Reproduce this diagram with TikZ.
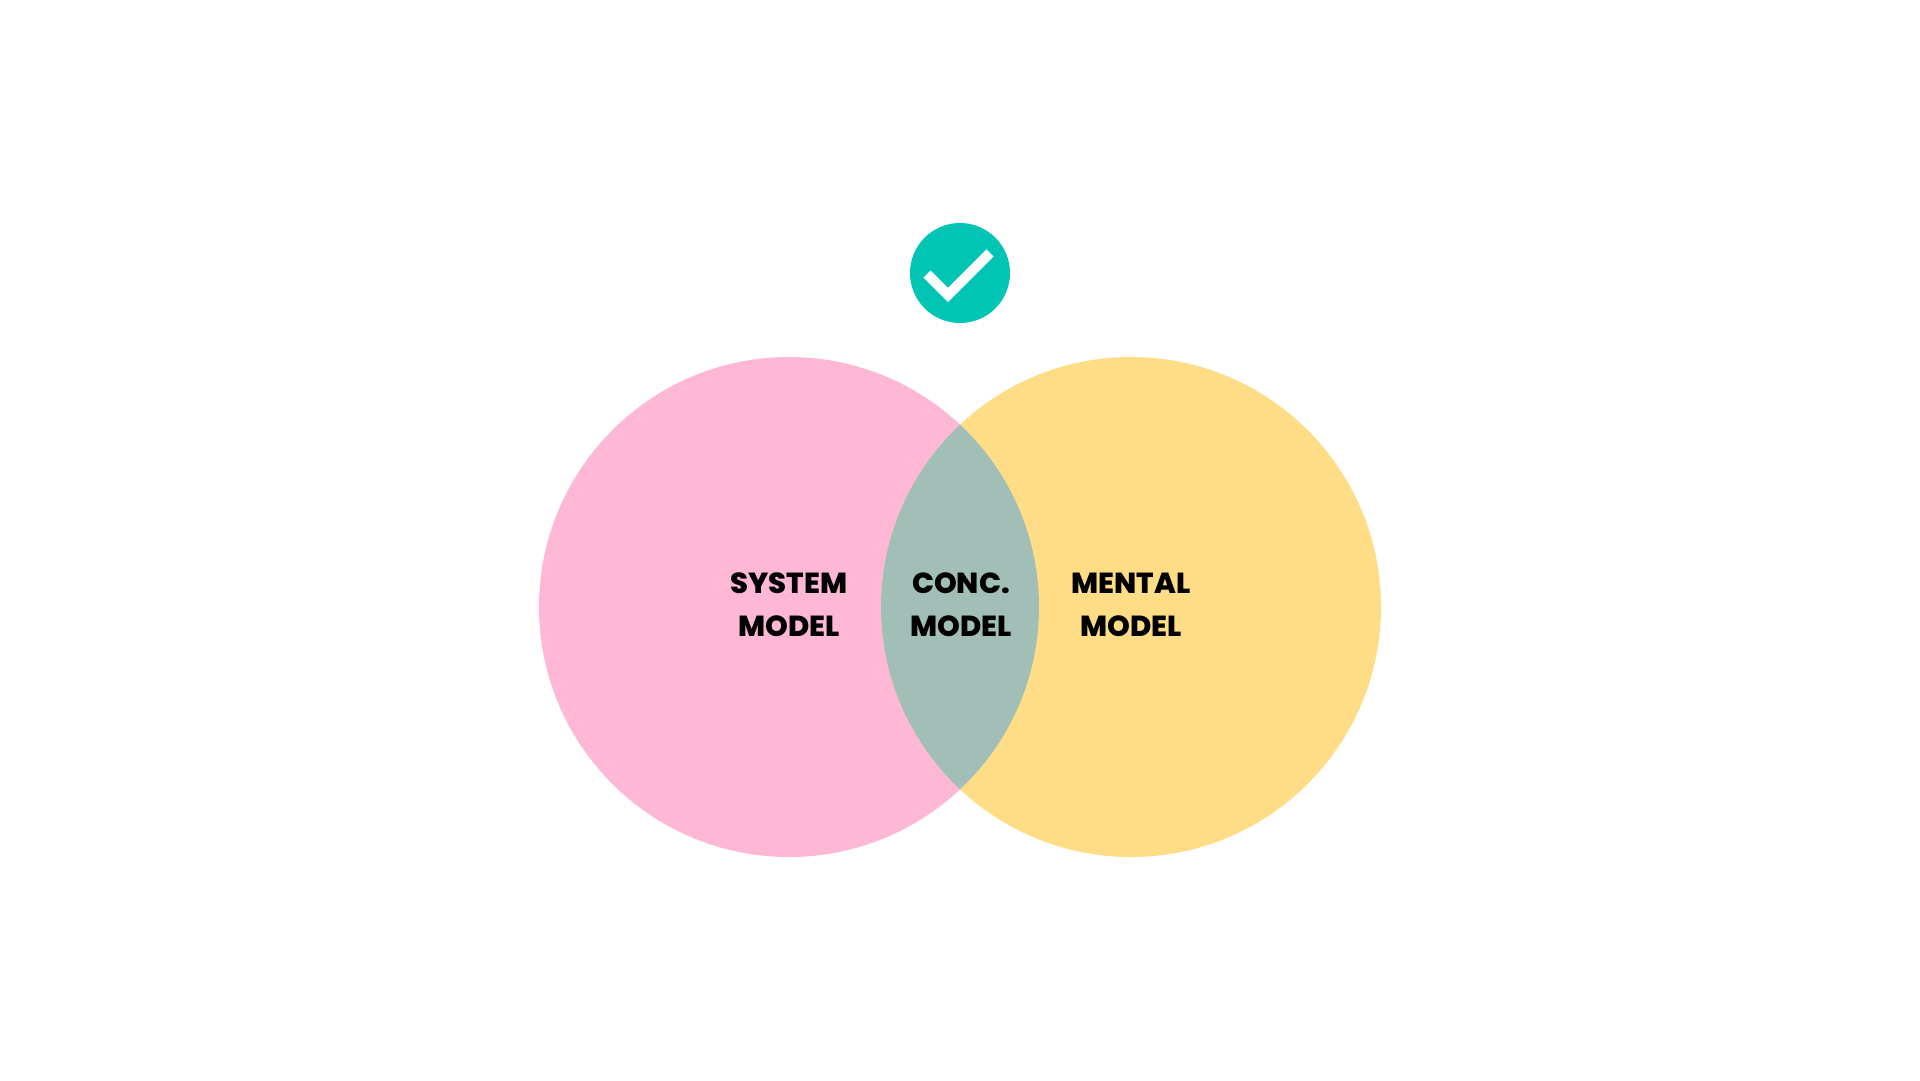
\documentclass[tikz,border=0pt]{standalone}
\usepackage{fontspec}
\newfontfamily\lbl{Poppins ExtraBold}
\definecolor{pinkc}{HTML}{FEB8D6}
\definecolor{yellowc}{HTML}{FFDD87}
\definecolor{lensc}{HTML}{A1BFB6}
\definecolor{tealc}{HTML}{00C5B5}
\tikzset{
  label text/.style={font=\lbl\fontsize{29}{43}\selectfont, text=black, align=center, inner sep=0pt},
}
\begin{document}
\begin{tikzpicture}[x=1pt,y=-1pt]
\useasboundingbox[fill=white] (0,0) rectangle (1920,1080);
\coordinate (L) at (789,607);
\coordinate (R) at (1131,607);
\coordinate (C) at (960,607);
% circles
\fill[pinkc] (L) circle[radius=250];
\fill[yellowc] (R) circle[radius=250];
\begin{scope}
  \clip (L) circle[radius=250];
  \fill[lensc] (R) circle[radius=250];
\end{scope}
% check badge
\coordinate (B) at (960,273);
\fill[tealc] (B) circle[radius=50];
\coordinate (k1) at (927,274);
\coordinate (k2) at (948,295);
\coordinate (k3) at (990,253);
\draw[white, line width=10pt, line join=miter] (k1) -- (k2) -- (k3);
% labels
\node[label text] (sys) at (789,605) {SYSTEM\\MODEL};
\node[label text] (conc) at (961,605) {CONC.\\MODEL};
\node[label text] (ment) at (1131,605) {MENTAL\\MODEL};
\end{tikzpicture}
\end{document}
